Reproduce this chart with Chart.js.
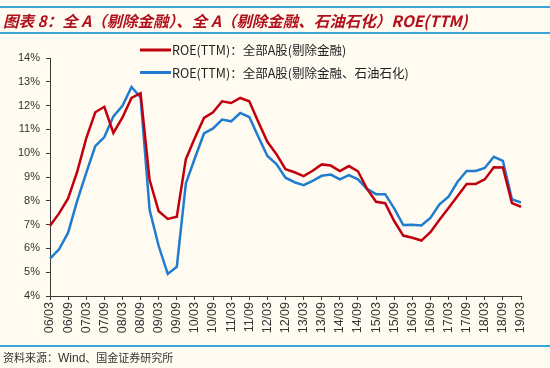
<!DOCTYPE html>
<html>
<head>
<meta charset="utf-8">
<script src="https://cdn.jsdelivr.net/npm/chart.js@4.4.1/dist/chart.umd.min.js"></script>
<style>
  html, body { margin: 0; padding: 0; background: #fffbf1; }
  .wrap { position: relative; width: 550px; height: 368px; overflow: hidden; }
  .title {
    position: absolute; left: 0; top: 6px; width: 550px; height: 24px;
    border-top: 2px solid #3aa6d6; border-bottom: 2px solid #3aa6d6;
    box-sizing: content-box;
  }
  .title span {
    position: absolute; left: 3px; top: 2px;
    font: italic bold 15.5px "Noto Sans CJK SC", "Liberation Sans", Arial, sans-serif;
    color: #b0101c; white-space: nowrap; line-height: 20px;
  }
  .src-line { position: absolute; left: 0; top: 345px; width: 550px; border-top: 2px solid #3aa6d6; }
  .src {
    position: absolute; left: 3px; top: 349px;
    font: 11px "Noto Sans CJK SC", "Liberation Sans", sans-serif; color: #333; white-space: nowrap;
  }
  .src b { font: 12px "Liberation Sans", Arial, sans-serif; font-weight: normal; }
  canvas { position: absolute; left: 0; top: 0; }
</style>
</head>
<body>
<div class="wrap">
  <canvas id="chart" width="550" height="368"></canvas>
  <div class="title"><span>图表 8：全 A（剔除金融）、全 A（剔除金融、石油石化）ROE(TTM)</span></div>
  <div class="src-line"></div>
  <div class="src">资料来源：<b>Wind</b>、国金证券研究所</div>
</div>
<script>
// quarterly points, 06/03 .. 19/03
const years = ['06','07','08','09','10','11','12','13','14','15','16','17','18','19'];
const months = ['03','06','09','12'];
const quarters = [];
years.forEach(y => months.forEach(m => quarters.push(y + '/' + m)));
const labels = quarters.slice(0, quarters.indexOf('19/03') + 1);

const exFinance = [
  6.95, 7.47, 8.1, 9.22, 10.62, 11.72, 11.95, 10.85, 11.5, 12.32, 12.52, 8.87, 7.56, 7.24, 7.33,
  9.75, 10.65, 11.48, 11.72, 12.18, 12.11, 12.32, 12.18, 11.31, 10.48, 9.96, 9.33, 9.2, 9.04,
  9.26, 9.53, 9.48, 9.25, 9.46, 9.24, 8.5, 7.96, 7.9, 7.15, 6.54, 6.45, 6.33, 6.68, 7.2, 7.7,
  8.2, 8.71, 8.71, 8.9, 9.41, 9.4, 7.9, 7.75
];
const exFinancePetro = [
  5.57, 5.96, 6.66, 8.0, 9.17, 10.3, 10.68, 11.55, 11.99, 12.78, 12.34, 7.61, 6.1, 4.93, 5.23,
  8.73, 9.8, 10.83, 11.04, 11.41, 11.34, 11.69, 11.52, 10.69, 9.88, 9.54, 8.97, 8.78, 8.66,
  8.84, 9.05, 9.1, 8.9, 9.08, 8.9, 8.5, 8.28, 8.28, 7.68, 6.98, 6.99, 6.96, 7.28, 7.85, 8.17,
  8.8, 9.25, 9.25, 9.38, 9.85, 9.68, 8.06, 7.93
];
const seriesNames = ['ROE(TTM)：全部A股(剔除金融)', 'ROE(TTM)：全部A股(剔除金融、石油石化)'];
const seriesColors = ['#c0000f', '#1f7ccf'];

const legendPlugin = {
  id: 'insideLegend',
  afterDraw(chart) {
    const ctx = chart.ctx;
    ctx.save();
    chart.data.datasets.forEach((ds, i) => {
      const y = 50 + i * 22.5;
      ctx.strokeStyle = ds.borderColor;
      ctx.lineWidth = 3;
      ctx.beginPath();
      ctx.moveTo(140, y);
      ctx.lineTo(171, y);
      ctx.stroke();
      ctx.fillStyle = '#222';
      ctx.font = '12.5px "Noto Sans CJK SC", sans-serif';
      ctx.textBaseline = 'middle';
      ctx.fillText(ds.label, 172, y + 0.5);
    });
    ctx.restore();
  }
};

const axisColor = '#3a3a3a';

new Chart(document.getElementById('chart'), {
  type: 'line',
  data: {
    labels: labels,
    datasets: [
      { label: seriesNames[0], data: exFinance, borderColor: seriesColors[0], borderWidth: 2.5, pointRadius: 0, tension: 0, fill: false },
      { label: seriesNames[1], data: exFinancePetro, borderColor: seriesColors[1], borderWidth: 2.5, pointRadius: 0, tension: 0, fill: false },
    ],
  },
  options: {
    responsive: false,
    animation: false,
    layout: { padding: { left: 0, right: 29, top: 58, bottom: 0 } },
    plugins: { legend: { display: false }, tooltip: { enabled: false } },
    scales: {
      x: {
        offset: false,
        grid: { drawOnChartArea: false, drawTicks: true, tickLength: 4, color: axisColor },
        border: { color: axisColor, width: 1 },
        ticks: {
          autoSkip: false, maxRotation: 90, minRotation: 90, padding: 2,
          color: '#333', font: { family: '"Liberation Sans", Arial', size: 12.5 },
          callback: function (v, i) { return i % 2 === 0 ? labels[i] : null; },
        },
        afterFit: s => { s.height = 72; },
      },
      y: {
        min: 4, max: 14,
        grid: { drawOnChartArea: false, drawTicks: true, tickLength: 4, color: axisColor },
        border: { color: axisColor, width: 1 },
        ticks: {
          stepSize: 1, padding: 6, color: '#333',
          font: { family: '"Liberation Sans", Arial', size: 11 },
          callback: v => v + '%',
        },
        afterFit: s => { s.width = 50; },
      },
    },
  },
  plugins: [legendPlugin],
});
</script>
</body>
</html>
